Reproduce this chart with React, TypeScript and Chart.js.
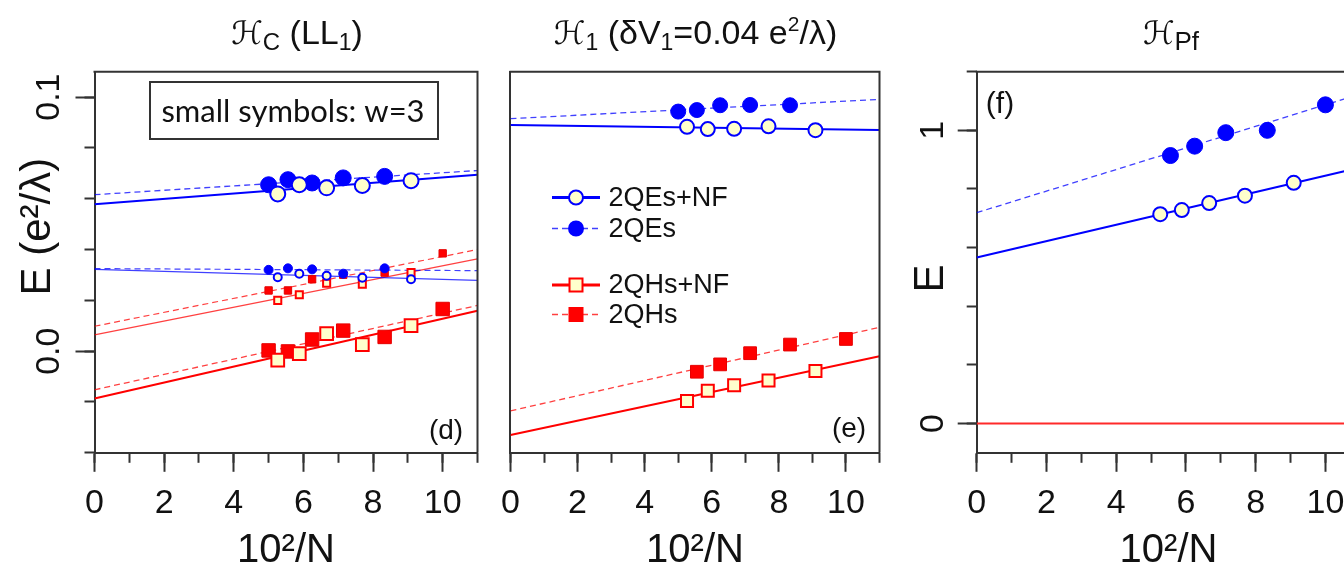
import React, { useEffect, useRef } from "react";
import { Chart, registerables } from "chart.js";

Chart.register(...registerables);

// ---------------- fonts & colours ----------------
const SANS = '"Liberation Sans", Arial, Helvetica, sans-serif';
const HUMAN = 'Lato, "Open Sans", sans-serif';
const SCRIPT = '"DejaVu Serif", "DejaVu Sans", serif';
const BLUE = "#0000ff";
const BLUE_THIN = "rgba(0,0,255,0.75)";
const RED = "#ff0000";
const RED_THIN = "rgba(255,0,0,0.75)";
const PALE = "#ffffcc";
const AXIS = "#333333";
const INK = "#111111";

// ---------------- data ----------------
// x = 10^2/N
const xEven = [5.0, 5.556, 6.25, 7.143, 8.333]; // N = 20,18,16,14,12
const xEvenTo10 = [5.0, 5.556, 6.25, 7.143, 8.333, 10.0]; // N = 20..10
const xEvenFrom18 = [5.556, 6.25, 7.143, 8.333, 10.0]; // N = 18..10
const xOdd = [5.263, 5.882, 6.667, 7.692, 9.091]; // N = 19,17,15,13,11
const fitX = [0, 11];

// panel (d)  H_C (LL1)
const dQEs = [0.0655, 0.0675, 0.0662, 0.0682, 0.0688];
const dQEsNF = [0.0619, 0.0655, 0.0643, 0.0652, 0.0671];
const dQEsW3 = [0.032, 0.0326, 0.0322, 0.0305, 0.0326];
const dQEsNFW3 = [0.0291, 0.0305, 0.0297, 0.0289, 0.0283];
const dQHs = [0.0003, -0.0001, 0.0046, 0.0081, 0.0056, 0.0166];
const dQHsNF = [-0.0035, -0.001, 0.0069, 0.0026, 0.0101];
const dQHsW3 = [0.0239, 0.0239, 0.0283, 0.0301, 0.0309, 0.0385];
const dQHsNFW3 = [0.02, 0.0222, 0.0267, 0.0264, 0.031];
const dFitQEsNF = [0.0578, 0.0694];
const dFitQEs = [0.0616, 0.0711];
const dFitQEsNFW3 = [0.0322, 0.0279];
const dFitQEsW3 = [0.0325, 0.0317];
const dFitQHsNF = [-0.0186, 0.0159];
const dFitQHs = [-0.0152, 0.018];
const dFitQHsNFW3 = [0.0064, 0.0363];
const dFitQHsW3 = [0.0098, 0.04];

// panel (e)  H_1 (dV1 = 0.04)
const eQEs = [0.0943, 0.0949, 0.0968, 0.0969, 0.0968];
const eQEsNF = [0.0883, 0.0874, 0.0875, 0.0885, 0.087];
const eQHs = [-0.0081, -0.0052, -0.0008, 0.0026, 0.0048];
const eQHsNF = [-0.0196, -0.0156, -0.0134, -0.0115, -0.0078];
const eFitQEsNF = [0.089, 0.0871];
const eFitQEs = [0.0915, 0.0991];
const eFitQHsNF = [-0.033, -0.002];
const eFitQHs = [-0.0235, 0.0094];

// panel (f)  H_Pf
const fQEs = [0.914, 0.946, 0.992, 1.0, 1.087];
const fQEsNF = [0.714, 0.728, 0.752, 0.777, 0.821];
const fFitQEsNF = [0.566, 0.873];
const fFitQEs = [0.719, 1.124];
const fFitQHs = [0, 0];

// axes
const xRange = [0, 11];
const xMajorStep = 2;
const dYRange = [-0.04, 0.11];
const dYMajorStep = 0.1;
const dYMinorStep = 0.02;
const fYRange = [-0.1, 1.2];
const fYMajorStep = 1;
const fYMinorStep = 0.2;
const xTitle = "10²/N";
const legendLabels = ["2QEs+NF", "2QEs", "2QHs+NF", "2QHs"];

// ---------------- geometry ----------------
const H = 571;
const PLOT_TOP = 71.7;
const PLOT_BOTTOM = 454.3;

type Geom = { canvasLeft: number; canvasWidth: number; left: number; right: number };
const GD: Geom = { canvasLeft: 0, canvasWidth: 490, left: 94.5, right: 477.5 };
const GE: Geom = { canvasLeft: 490, canvasWidth: 400, left: 497.3, right: 880 };
const GF: Geom = { canvasLeft: 890, canvasWidth: 500, left: 976.7, right: 1360.3 };

// ---------------- helpers ----------------
const pts = (xs: number[], ys: number[]) => xs.map((x, i) => ({ x, y: ys[i] }));

const circleOpen = (r: number) => ({
  pointStyle: "circle", pointRadius: r, pointBackgroundColor: PALE, pointBorderColor: BLUE,
  pointBorderWidth: 2, backgroundColor: PALE, borderColor: BLUE,
});
const circleFilled = (r: number) => ({
  pointStyle: "circle", pointRadius: r, pointBackgroundColor: BLUE, pointBorderColor: BLUE,
  pointBorderWidth: 1, backgroundColor: BLUE, borderColor: BLUE,
});
const squareOpen = (r: number) => ({
  pointStyle: "rect", pointRadius: r, pointBackgroundColor: PALE, pointBorderColor: RED,
  pointBorderWidth: 2, backgroundColor: PALE, borderColor: RED,
});
const squareFilled = (r: number) => ({
  pointStyle: "rect", pointRadius: r, pointBackgroundColor: RED, pointBorderColor: "#e60000",
  pointBorderWidth: 1, backgroundColor: RED, borderColor: RED,
});

function markers(label: string, xs: number[], ys: number[], style: any, order: number) {
  return { label, data: pts(xs, ys), showLine: false, order, xAxisID: "x", yAxisID: "y", ...style };
}
function fitLine(label: string, ys: number[], color: string, width: number, dashed: boolean, order: number) {
  return {
    label, data: pts(fitX, ys), showLine: true, pointRadius: 0, borderColor: color,
    borderWidth: width, borderDash: dashed ? [6, 4] : [], fill: false, tension: 0, order,
    xAxisID: "x", yAxisID: "y",
  };
}

function xScales(g: Geom) {
  return {
    x: {
      type: "linear", position: "bottom", min: xRange[0], max: xRange[1], weight: 1,
      ticks: {
        stepSize: xMajorStep, includeBounds: false, autoSkip: false, maxRotation: 0,
        font: { family: SANS, size: 34 }, color: INK, padding: 11,
      },
      grid: { drawOnChartArea: false, tickLength: 19, tickWidth: 2, tickColor: AXIS },
      border: { display: true, width: 2, color: AXIS },
      title: {
        display: true, text: xTitle, color: INK,
        font: { family: SANS, size: 40, lineHeight: 1 }, padding: { top: 0, bottom: 0 },
      },
      afterFit: (s: any) => { s.height = H - PLOT_BOTTOM + 1.5; },
    },
    x2: {
      type: "linear", position: "bottom", min: xRange[0], max: xRange[1], weight: 0,
      ticks: { stepSize: 1, includeBounds: false, display: false },
      grid: { drawOnChartArea: false, tickLength: 10, tickWidth: 2, tickColor: AXIS },
      border: { display: false },
      afterFit: (s: any) => { s.height = 0; },
    },
  };
}

function yScalesLabelled(g: Geom, range: number[], major: number, minor: number, pad: number, fmt: (v: number) => string) {
  return {
    y: {
      type: "linear", position: "left", min: range[0], max: range[1], weight: 1,
      ticks: {
        stepSize: major, includeBounds: false, autoSkip: false, minRotation: 90, maxRotation: 90,
        crossAlign: "center", padding: pad, font: { family: SANS, size: 34 }, color: INK,
        callback: (v: any) => fmt(Number(v)),
      },
      grid: { drawOnChartArea: false, tickLength: 19, tickWidth: 2, tickColor: AXIS },
      border: { display: true, width: 2, color: AXIS },
      afterFit: (s: any) => { s.width = g.left - g.canvasLeft; },
    },
    y2: {
      type: "linear", position: "left", min: range[0], max: range[1], weight: 0,
      ticks: { stepSize: minor, includeBounds: false, display: false },
      grid: { drawOnChartArea: false, tickLength: 10, tickWidth: 2, tickColor: AXIS },
      border: { display: false },
      afterFit: (s: any) => { s.width = 0; },
    },
  };
}

type Seg = { t: string; size: number; dy?: number; family?: string };
function drawRich(ctx: CanvasRenderingContext2D, segs: Seg[], cx: number, baseline: number) {
  let total = 0;
  const widths = segs.map((s) => {
    ctx.font = `${s.size}px ${s.family || SANS}`;
    const w = ctx.measureText(s.t).width;
    total += w;
    return w;
  });
  let x = cx - total / 2;
  ctx.textAlign = "left";
  ctx.textBaseline = "alphabetic";
  segs.forEach((s, i) => {
    ctx.font = `${s.size}px ${s.family || SANS}`;
    ctx.fillText(s.t, x, baseline + (s.dy || 0));
    x += widths[i];
  });
}

const framePlugin = {
  id: "frame",
  afterDraw(chart: any) {
    const { ctx, chartArea } = chart;
    const { left, top, right, bottom } = chartArea;
    ctx.save();
    ctx.strokeStyle = AXIS;
    ctx.lineWidth = 2;
    ctx.beginPath();
    ctx.moveTo(left - 1, top);
    ctx.lineTo(right, top);
    ctx.lineTo(right, bottom);
    ctx.stroke();
    ctx.restore();
  },
};

function annotPlugin(g: Geom, draw: (ctx: CanvasRenderingContext2D, X: (px: number) => number) => void) {
  return {
    id: "annot",
    afterDraw(chart: any) {
      const ctx = chart.ctx as CanvasRenderingContext2D;
      ctx.save();
      ctx.fillStyle = INK;
      draw(ctx, (px: number) => px - g.canvasLeft);
      ctx.restore();
    },
  };
}

function rotatedText(ctx: CanvasRenderingContext2D, text: string, x: number, y: number, size: number) {
  ctx.save();
  ctx.translate(x, y);
  ctx.rotate(-Math.PI / 2);
  ctx.font = `${size}px ${SANS}`;
  ctx.textAlign = "center";
  ctx.textBaseline = "alphabetic";
  ctx.fillText(text, 0, 0);
  ctx.restore();
}

function centerText(ctx: CanvasRenderingContext2D, text: string, x: number, y: number, size: number, family = SANS) {
  ctx.font = `${size}px ${family}`;
  ctx.textAlign = "center";
  ctx.textBaseline = "middle";
  ctx.fillText(text, x, y);
}

function baseOptions(g: Geom, scales: any) {
  return {
    responsive: false,
    maintainAspectRatio: false,
    animation: false,
    devicePixelRatio: 1,
    events: [],
    layout: {
      padding: {
        left: 0,
        right: g.canvasWidth - (g.right - g.canvasLeft),
        top: PLOT_TOP,
        bottom: 0,
      },
    },
    plugins: { legend: { display: false }, tooltip: { enabled: false }, title: { display: false } },
    scales,
  };
}

// ---------------- panel configs ----------------
function configD() {
  const datasets = [
    markers("2QEs+NF", xOdd, dQEsNF, circleOpen(7.5), 1),
    markers("2QEs", xEven, dQEs, circleFilled(8), 2),
    markers("2QEs+NF w=3", xOdd, dQEsNFW3, circleOpen(4), 3),
    markers("2QEs w=3", xEven, dQEsW3, circleFilled(4.5), 4),
    markers("2QHs+NF", xOdd, dQHsNF, squareOpen(9), 5),
    markers("2QHs", xEvenTo10, dQHs, squareFilled(9.5), 6),
    markers("2QHs+NF w=3", xOdd, dQHsNFW3, squareOpen(5), 7),
    markers("2QHs w=3", xEvenTo10, dQHsW3, squareFilled(5.2), 8),
    fitLine("fit 2QEs+NF", dFitQEsNF, BLUE, 2, false, 20),
    fitLine("fit 2QEs", dFitQEs, BLUE_THIN, 1.3, true, 21),
    fitLine("fit 2QEs+NF w=3", dFitQEsNFW3, BLUE_THIN, 1.3, false, 22),
    fitLine("fit 2QEs w=3", dFitQEsW3, BLUE_THIN, 1.2, true, 23),
    fitLine("fit 2QHs+NF", dFitQHsNF, RED, 2, false, 24),
    fitLine("fit 2QHs", dFitQHs, RED_THIN, 1.3, true, 25),
    fitLine("fit 2QHs+NF w=3", dFitQHsNFW3, RED_THIN, 1.3, false, 26),
    fitLine("fit 2QHs w=3", dFitQHsW3, RED_THIN, 1.2, true, 27),
  ];
  const scales = { ...xScales(GD), ...yScalesLabelled(GD, dYRange, dYMajorStep, dYMinorStep, 2, (v) => v.toFixed(1)) };
  return {
    type: "scatter",
    data: { datasets },
    options: baseOptions(GD, scales),
    plugins: [
      framePlugin,
      annotPlugin(GD, (ctx, X) => {
        drawRich(ctx, [
          { t: "ℋ", size: 32, family: SCRIPT },
          { t: "C", size: 24, dy: 6 },
          { t: " (LL", size: 34 },
          { t: "1", size: 23, dy: 6 },
          { t: ")", size: 34 },
        ], X(297), 44);
        rotatedText(ctx, "E (e²/λ)", X(50), 226.6, 42);
        centerText(ctx, "(d)", X(446), 431, 28);
        // inset box
        ctx.fillStyle = "#ffffff";
        ctx.fillRect(X(150), 82, 288, 57);
        ctx.strokeStyle = AXIS;
        ctx.lineWidth = 2;
        ctx.strokeRect(X(150), 82, 288, 57);
        ctx.fillStyle = INK;
        ctx.font = `31px ${HUMAN}`;
        ctx.textAlign = "center";
        ctx.textBaseline = "alphabetic";
        ctx.fillText("small symbols: w=3", X(293), 121.5);
      }),
    ],
  };
}

function configE() {
  const datasets = [
    markers("2QEs+NF", xOdd, eQEsNF, circleOpen(7), 1),
    markers("2QEs", xEven, eQEs, circleFilled(7.5), 2),
    markers("2QHs+NF", xOdd, eQHsNF, squareOpen(8.5), 3),
    markers("2QHs", xEvenFrom18, eQHs, squareFilled(9), 4),
    fitLine("fit 2QEs+NF", eFitQEsNF, BLUE, 2, false, 20),
    fitLine("fit 2QEs", eFitQEs, BLUE_THIN, 1.3, true, 21),
    fitLine("fit 2QHs+NF", eFitQHsNF, RED, 2, false, 22),
    fitLine("fit 2QHs", eFitQHs, RED_THIN, 1.3, true, 23),
  ];
  const scales = {
    ...xScales(GE),
    y: {
      type: "linear", position: "left", min: dYRange[0], max: dYRange[1],
      ticks: { display: false },
      grid: { drawOnChartArea: false, drawTicks: false },
      border: { display: true, width: 2, color: AXIS },
      afterFit: (s: any) => { s.width = GE.left - GE.canvasLeft; },
    },
  };
  const rows = [
    { y: 197.5, color: BLUE, w: 3, dash: false, kind: "circleOpen" },
    { y: 228.5, color: BLUE_THIN, w: 1.3, dash: true, kind: "circleFilled" },
    { y: 285, color: RED, w: 3, dash: false, kind: "squareOpen" },
    { y: 314.5, color: RED_THIN, w: 1.3, dash: true, kind: "squareFilled" },
  ];
  return {
    type: "scatter",
    data: { datasets },
    options: baseOptions(GE, scales),
    plugins: [
      framePlugin,
      annotPlugin(GE, (ctx, X) => {
        drawRich(ctx, [
          { t: "ℋ", size: 32, family: SCRIPT },
          { t: "1", size: 23, dy: 6 },
          { t: " (δV", size: 34 },
          { t: "1", size: 23, dy: 6 },
          { t: "=0.04 e", size: 34 },
          { t: "2", size: 21, dy: -13 },
          { t: "/λ)", size: 34 },
        ], X(695.5), 44);
        centerText(ctx, "(e)", X(849), 429, 28);
        rows.forEach((r, i) => {
          ctx.save();
          ctx.strokeStyle = r.color;
          ctx.lineWidth = r.w;
          ctx.setLineDash(r.dash ? [6, 4] : []);
          ctx.beginPath();
          ctx.moveTo(X(552), r.y);
          ctx.lineTo(X(600), r.y);
          ctx.stroke();
          ctx.setLineDash([]);
          const cx = X(576);
          if (r.kind === "circleOpen" || r.kind === "circleFilled") {
            ctx.beginPath();
            ctx.arc(cx, r.y, 7, 0, Math.PI * 2);
            ctx.fillStyle = r.kind === "circleOpen" ? PALE : BLUE;
            ctx.fill();
            ctx.lineWidth = 2;
            ctx.strokeStyle = BLUE;
            ctx.stroke();
          } else {
            const s = 6.5;
            ctx.fillStyle = r.kind === "squareOpen" ? PALE : RED;
            ctx.fillRect(cx - s, r.y - s, 2 * s, 2 * s);
            ctx.lineWidth = 2;
            ctx.strokeStyle = RED;
            ctx.strokeRect(cx - s, r.y - s, 2 * s, 2 * s);
          }
          ctx.restore();
          ctx.fillStyle = INK;
          ctx.font = `27px ${SANS}`;
          ctx.textAlign = "left";
          ctx.textBaseline = "middle";
          ctx.fillText(legendLabels[i], X(608.5), r.y + 1);
        });
      }),
    ],
  };
}

function configF() {
  const datasets = [
    markers("2QEs+NF", xOdd, fQEsNF, circleOpen(7), 1),
    markers("2QEs", xEvenFrom18, fQEs, circleFilled(8), 2),
    fitLine("fit 2QEs+NF", fFitQEsNF, BLUE, 2, false, 20),
    fitLine("fit 2QEs", fFitQEs, BLUE_THIN, 1.3, true, 21),
    fitLine("2QHs", fFitQHs, "#ff2a2a", 2, false, 22),
  ];
  const scales = { ...xScales(GF), ...yScalesLabelled(GF, fYRange, fYMajorStep, fYMinorStep, 14.5, (v) => String(v)) };
  return {
    type: "scatter",
    data: { datasets },
    options: baseOptions(GF, scales),
    plugins: [
      framePlugin,
      annotPlugin(GF, (ctx, X) => {
        drawRich(ctx, [
          { t: "ℋ", size: 32, family: SCRIPT },
          { t: "Pf", size: 26, dy: 6 },
        ], X(1171), 44);
        rotatedText(ctx, "E", X(942.5), 278.5, 42);
        centerText(ctx, "(f)", X(1000), 105, 30);
      }),
    ],
  };
}

function Panel({ g, make }: { g: Geom; make: () => any }) {
  const ref = useRef<HTMLCanvasElement | null>(null);
  useEffect(() => {
    if (!ref.current) return;
    const chart = new Chart(ref.current, make());
    return () => chart.destroy();
  }, []);
  return (
    <canvas
      ref={ref}
      width={g.canvasWidth}
      height={H}
      style={{ position: "absolute", left: g.canvasLeft, top: 0, width: g.canvasWidth, height: H }}
    />
  );
}

export default function App() {
  return (
    <div
      style={{
        position: "fixed", left: 0, top: 0, width: 1344, height: H,
        overflow: "hidden", background: "#ffffff",
      }}
    >
      <Panel g={GD} make={configD} />
      <Panel g={GE} make={configE} />
      <Panel g={GF} make={configF} />
    </div>
  );
}
